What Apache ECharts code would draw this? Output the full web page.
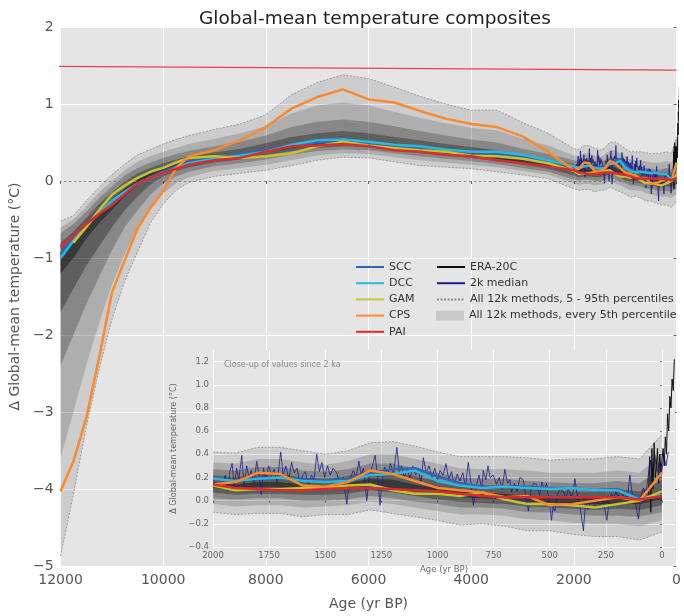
<!DOCTYPE html>
<html><head><meta charset="utf-8">
<script src="https://cdn.jsdelivr.net/npm/echarts@6/dist/echarts.min.js"></script>
<style>html,body{margin:0;padding:0;background:#fff}#c{width:684px;height:616px}</style>
</head><body><div id="c"></div>
<script>
// ---------- 12k section (ages in yr BP) ----------
const ages12k = [12000,11750,11500,11250,11000,10750,10500,10250,10000,9750,9500,9000,8500,8000,7500,7000,6500,6000,5500,5000,4500,4000,3500,3000,2500];
const p05_12k = [-4.87,-4.07,-3.2,-2.45,-1.8,-1.3,-0.92,-0.55,-0.3,-0.12,-0.02,0.06,0.1,0.14,0.2,0.27,0.31,0.3,0.25,0.2,0.18,0.16,0.12,0.08,0.03];
const p15_12k = [-3.6,-3.0,-2.4,-1.85,-1.35,-0.95,-0.62,-0.36,-0.16,-0.03,0.05,0.13,0.17,0.21,0.27,0.33,0.36,0.35,0.31,0.27,0.24,0.21,0.18,0.13,0.08];
const p25_12k = [-2.4,-2.0,-1.6,-1.25,-0.9,-0.6,-0.38,-0.18,-0.03,0.06,0.12,0.19,0.23,0.28,0.34,0.39,0.41,0.4,0.36,0.32,0.29,0.26,0.22,0.17,0.12];
const p35_12k = [-1.7,-1.4,-1.1,-0.85,-0.6,-0.38,-0.2,-0.05,0.06,0.13,0.18,0.24,0.28,0.33,0.39,0.43,0.45,0.44,0.4,0.36,0.33,0.3,0.26,0.21,0.16];
const p45_12k = [-1.2,-1.0,-0.75,-0.55,-0.38,-0.2,-0.06,0.05,0.12,0.18,0.22,0.27,0.31,0.37,0.43,0.47,0.49,0.47,0.43,0.4,0.36,0.33,0.29,0.24,0.19];
const p55_12k = [-0.95,-0.8,-0.58,-0.4,-0.25,-0.1,0.02,0.11,0.17,0.22,0.26,0.31,0.35,0.41,0.48,0.52,0.54,0.52,0.48,0.45,0.41,0.38,0.34,0.28,0.23];
const p65_12k = [-0.8,-0.66,-0.48,-0.3,-0.15,-0.01,0.1,0.17,0.23,0.28,0.32,0.37,0.42,0.49,0.57,0.62,0.65,0.62,0.57,0.53,0.48,0.44,0.4,0.34,0.28];
const p75_12k = [-0.68,-0.56,-0.4,-0.22,-0.07,0.07,0.17,0.24,0.3,0.35,0.39,0.45,0.51,0.59,0.7,0.77,0.8,0.77,0.71,0.65,0.59,0.54,0.5,0.42,0.35];
const p85_12k = [-0.6,-0.5,-0.33,-0.15,0.0,0.14,0.25,0.32,0.38,0.43,0.48,0.55,0.62,0.71,0.88,0.98,1.02,0.98,0.9,0.82,0.75,0.69,0.66,0.55,0.46];
const p95_12k = [-0.52,-0.45,-0.26,-0.08,0.08,0.22,0.34,0.41,0.48,0.54,0.59,0.67,0.74,0.86,1.12,1.28,1.38,1.33,1.22,1.1,1.0,0.92,0.92,0.76,0.62];
const scc12k = [-0.95,-0.75,-0.57,-0.42,-0.28,-0.15,-0.04,0.05,0.12,0.19,0.25,0.30,0.35,0.40,0.46,0.50,0.52,0.49,0.46,0.43,0.40,0.37,0.35,0.31,0.25];
const dcc12k = [-1.0,-0.78,-0.58,-0.42,-0.26,-0.14,-0.03,0.04,0.10,0.17,0.23,0.29,0.33,0.38,0.47,0.53,0.54,0.51,0.47,0.45,0.41,0.38,0.38,0.34,0.27];
const gam12k = [null,-0.8,-0.6,-0.38,-0.18,-0.06,0.04,0.12,0.17,0.24,0.30,0.32,0.30,0.32,0.36,0.45,0.51,0.46,0.43,0.40,0.38,0.33,0.32,0.29,0.23];
const cps12k = [-4.03,-3.64,-3.08,-2.3,-1.45,-1.03,-0.62,-0.35,-0.13,0.17,0.32,0.40,0.53,0.70,0.94,1.09,1.19,1.06,1.02,0.91,0.81,0.74,0.70,0.58,0.38];
const pai12k = [-0.85,-0.72,-0.56,-0.43,-0.31,-0.17,-0.03,0.04,0.10,0.16,0.21,0.27,0.30,0.38,0.45,0.46,0.48,0.45,0.40,0.38,0.34,0.32,0.27,0.23,0.19];

// ---------- 2k section ----------
const ages2k = [2000,1900,1800,1700,1600,1500,1400,1300,1200,1100,1000,900,800,700,600,500,400,300,200,100,0];
const p05_2k = [-0.10,-0.12,-0.11,-0.11,-0.14,-0.12,-0.12,-0.08,-0.11,-0.14,-0.17,-0.21,-0.20,-0.22,-0.26,-0.26,-0.29,-0.31,-0.31,-0.34,-0.27];
const p15_2k = [-0.03,-0.05,-0.04,-0.04,-0.06,-0.05,-0.04,-0.01,-0.03,-0.06,-0.09,-0.12,-0.12,-0.13,-0.16,-0.17,-0.19,-0.20,-0.20,-0.22,-0.17];
const p25_2k = [0.02,0.01,0.02,0.02,0.0,0.0,0.01,0.04,0.02,-0.01,-0.03,-0.06,-0.06,-0.07,-0.1,-0.1,-0.12,-0.13,-0.13,-0.14,-0.1];
const p35_2k = [0.07,0.05,0.06,0.06,0.05,0.05,0.06,0.09,0.07,0.04,0.01,-0.01,-0.02,-0.03,-0.05,-0.06,-0.07,-0.08,-0.07,-0.08,-0.04];
const p45_2k = [0.11,0.09,0.1,0.1,0.09,0.09,0.1,0.13,0.11,0.08,0.05,0.03,0.02,0.01,-0.01,-0.02,-0.03,-0.03,-0.03,-0.03,0.01];
const p55_2k = [0.16,0.14,0.16,0.16,0.14,0.13,0.15,0.19,0.18,0.14,0.11,0.08,0.07,0.06,0.04,0.03,0.02,0.02,0.03,0.02,0.08];
const p65_2k = [0.22,0.2,0.23,0.23,0.2,0.19,0.21,0.26,0.25,0.21,0.17,0.14,0.13,0.12,0.1,0.09,0.08,0.08,0.1,0.08,0.18];
const p75_2k = [0.27,0.26,0.29,0.29,0.26,0.25,0.27,0.32,0.32,0.28,0.24,0.2,0.19,0.19,0.17,0.16,0.15,0.15,0.17,0.15,0.28];
const p85_2k = [0.33,0.32,0.36,0.36,0.33,0.31,0.34,0.4,0.4,0.36,0.32,0.28,0.27,0.27,0.26,0.24,0.24,0.24,0.26,0.24,0.4];
const p95_2k = [0.42,0.41,0.46,0.46,0.43,0.40,0.43,0.50,0.51,0.47,0.42,0.38,0.38,0.38,0.37,0.35,0.36,0.36,0.38,0.36,0.57];
const scc2k = [0.18,0.17,0.19,0.20,0.18,0.17,0.19,0.24,0.27,0.28,0.21,0.15,0.12,0.12,0.12,0.11,0.11,0.09,0.10,0.02,0.05];
const dcc2k = [0.19,0.17,0.19,0.20,0.17,0.16,0.17,0.22,0.23,0.26,0.17,0.13,0.11,0.12,0.11,0.10,0.11,0.09,0.09,0.01,0.05];
const gam2k = [0.13,0.09,0.10,0.10,0.11,0.11,0.13,0.14,0.09,0.06,0.06,0.04,0.07,0.01,-0.03,-0.03,-0.04,-0.06,-0.03,0.0,0.08];
const cps2k = [0.14,0.16,0.24,0.23,0.13,0.12,0.16,0.26,0.23,0.17,0.11,0.09,0.07,0.03,0.04,-0.04,-0.03,0.0,0.03,0.0,0.24];
const pai2k = [0.14,0.11,0.10,0.09,0.09,0.10,0.11,0.11,0.10,0.09,0.08,0.06,0.04,0.03,0.03,0.03,0.03,0.03,0.03,0.01,0.04];

// 2k median (navy)
const medAges = [1955,1945,1935,1925,1915,1905,1895,1885,1872,1862,1850,1840,1830,1818,1805,1795,1785,1775,1765,1752,1740,1728,1715,1698,1688,1675,1662,1650,1638,1625,1612,1600,1588,1575,1562,1550,1538,1526,1515,1503,1490,1478,1465,1449,1435,1420,1404,1392,1375,1362,1350,1340,1330,1315,1305,1290,1278,1266,1256,1245,1235,1222,1210,1196,1181,1170,1160,1148,1135,1122,1110,1097,1085,1073,1063,1050,1038,1025,1012,1000,989,975,962,950,938,925,912,900,887,875,863,851,840,828,815,803,796,785,775,766,752,737,725,712,700,688,678,670,658,645,633,618,607,595,585,572,558,545,535,524,514,503,492,485,477,466,455,440,428,418,405,395,388,378,365,350,340,330,321,310,298,288,276,262,246,235,225,215,205,195,185,175,165,155,143,132,120,105,95,83,72,62,52,42,32,22,12,2,-8,-18,-28];
const medVals = [0.15,0.22,0.08,0.25,0.32,0.12,0.28,0.18,0.39,0.13,0.30,0.20,0.26,0.15,0.34,0.22,0.05,0.28,0.18,0.30,0.22,0.27,0.15,0.42,0.22,0.30,0.18,0.33,0.24,0.28,0.14,0.22,0.25,0.12,0.22,0.18,0.40,0.25,0.33,0.20,0.30,0.22,0.28,0.24,0.15,0.20,-0.03,0.18,0.26,0.20,0.34,0.22,0.28,0.0,0.2,0.30,0.39,0.2,-0.04,0.2,0.29,0.22,0.32,0.24,0.46,0.25,0.30,0.20,0.28,0.18,0.30,0.22,0.26,0.15,0.37,0.24,0.30,0.20,0.28,0.18,0.26,0.22,0.32,0.18,0.25,0.14,0.23,0.17,0.24,0.12,0.33,0.15,-0.04,0.12,0.22,0.10,0.26,0.18,0.30,0.20,0.22,0.14,0.20,0.10,0.27,0.15,0.18,0.07,0.15,0.08,0.20,0.18,0.05,-0.09,0.08,0.15,0.14,0.05,0.16,0.10,0.15,0.0,-0.17,-0.05,-0.09,0.05,0.10,0.08,0.02,0.10,0.04,0.08,0.19,0.05,-0.05,-0.26,0.0,-0.08,-0.03,0.02,-0.07,0.0,-0.05,0.02,-0.17,0.0,0.06,0.02,0.08,0.03,0.10,0.04,0.08,0.0,0.22,0.05,0.0,-0.16,0.02,0.11,0.05,0.2,0.35,0.15,0.4,0.25,0.33,0.22,0.4,0.3,0.42];

// ERA-20C (black)
const eraAges = [60,55,50,45,40,35,30,25,20,15,10,5,0,-5,-10,-15,-20,-25,-30,-35,-40,-45,-50,-55];
const eraVals = [0.05,0.38,-0.1,0.45,0.1,0.5,0.2,0.3,0.45,0.15,0.4,0.25,0.35,0.45,0.3,0.55,0.4,0.75,0.6,0.9,0.8,1.05,0.95,1.22];

// red reference line
const refAges = [12370, 0];
const refVals = [1.49, 1.44];

const xTicksInset = [0,250,500,750,1000,1250,1500,1750,2000];
const yTicksInset = [-0.4,-0.2,0,0.2,0.4,0.6,0.8,1.0,1.2];

const BAND = 'All 12k methods, every 5th percentile';
const P595 = 'All 12k methods, 5 - 95th percentiles';
const COLORS = {SCC:'#2f66ad', DCC:'#2ab8e0', GAM:'#c4c42c', CPS:'#fb8a2c', PAI:'#dc2b2e'};
const FONT = 'DejaVu Sans';

function pts(xs, ys){ return xs.map((x,i)=>[x, ys[i]]); }
const agesAll = ages12k.concat(ages2k);
const cat = (a,b)=>a.concat(b);

const mainLo = [cat(p05_12k,p05_2k), cat(p15_12k,p15_2k), cat(p25_12k,p25_2k), cat(p35_12k,p35_2k), cat(p45_12k,p45_2k)];
const mainHi = [cat(p95_12k,p95_2k), cat(p85_12k,p85_2k), cat(p75_12k,p75_2k), cat(p65_12k,p65_2k), cat(p55_12k,p55_2k)];
const insLo = [p05_2k,p15_2k,p25_2k,p35_2k,p45_2k];
const insHi = [p95_2k,p85_2k,p75_2k,p65_2k,p55_2k];
const alphas = [0.1,0.15,0.22,0.3,0.4];

const series = [];
function addBands(xs, los, his, ax, z){
  los.forEach((lo,k)=>{
    const hi = his[k];
    const fill = 'rgba(0,0,0,'+alphas[k]+')';
    series.push({type:'custom', name:BAND, xAxisIndex:ax, yAxisIndex:ax, silent:true, z:z, clip:true,
      data: xs.map((x,i)=>[x, lo[i], hi[i]]), encode:{x:0, y:[1,2]},
      itemStyle:{color:fill},
      renderItem:(params, api)=>{
        if (params.dataIndex !== 0) return null;
        const poly = [];
        for (let i=0;i<xs.length;i++) poly.push(api.coord([xs[i], hi[i]]));
        for (let i=xs.length-1;i>=0;i--) poly.push(api.coord([xs[i], lo[i]]));
        return {type:'polygon', shape:{points:poly}, style:{fill:fill, stroke:null}};
      }});
  });
}
function addLines(ax, xs, lo, hi, z){
  const zeroML = {silent:true, symbol:'none', label:{show:false}, lineStyle:{type:[3,2], color:'#707070', width:0.8}, data:[{yAxis:0}]};
  series.push({type:'line', name:P595, xAxisIndex:ax, yAxisIndex:ax, data:pts(xs, lo), symbol:'none',
    lineStyle:{color:'#8a8a8a', width:0.8, type:[2,1.5]}, itemStyle:{color:'#8a8a8a'}, silent:true, z:z+1, markLine:zeroML});
  series.push({type:'line', name:P595, xAxisIndex:ax, yAxisIndex:ax, data:pts(xs, hi), symbol:'none',
    lineStyle:{color:'#8a8a8a', width:0.8, type:[2,1.5]}, itemStyle:{color:'#8a8a8a'}, silent:true, z:z+1});
  series.push({type:'line', name:'2k median', xAxisIndex:ax, yAxisIndex:ax, data:pts(medAges, medVals), symbol:'none',
    lineStyle:{color:'#1c1c86', width:0.8}, itemStyle:{color:'#1c1c86'}, silent:true, z:z+2});
  series.push({type:'line', name:'ERA-20C', xAxisIndex:ax, yAxisIndex:ax, data:pts(eraAges, eraVals), symbol:'none',
    lineStyle:{color:'#111', width:1}, itemStyle:{color:'#111'}, silent:true, z:z+2});
}
function addMethods(ax, xs, sets, z){
  ['SCC','DCC','GAM','CPS','PAI'].forEach((n,i)=>{
    series.push({type:'line', name:n, xAxisIndex:ax, yAxisIndex:ax, data:pts(xs, sets[i]), symbol:'none',
      lineStyle:{color:COLORS[n], width:2.5}, itemStyle:{color:COLORS[n]}, silent:true, z:z+3});
  });
}

// main
addBands(agesAll, mainLo, mainHi, 0, 2);
addLines(0, agesAll, mainLo[0], mainHi[0], 2);
addMethods(0, agesAll, [cat(scc12k,scc2k), cat(dcc12k,dcc2k), cat(gam12k,gam2k), cat(cps12k,cps2k), cat(pai12k,pai2k)], 2);
series.push({type:'line', name:'_ref', xAxisIndex:0, yAxisIndex:0, data:pts(refAges, refVals), symbol:'none', clip:false,
  lineStyle:{color:'#e0474c', width:1.1}, silent:true, z:6});
// inset
addBands(ages2k, insLo, insHi, 1, 8);
addLines(1, ages2k, p05_2k, p95_2k, 8);
addMethods(1, ages2k, [scc2k, dcc2k, gam2k, cps2k, pai2k], 8);

const minus = v => String(v).replace('-', '\u2212');
const legText = {fontSize:11, color:'#333', lineHeight:14};
const chart = echarts.init(document.getElementById('c'));
chart.setOption({
  animation:false,
  backgroundColor:'#ffffff',
  textStyle:{fontFamily:FONT},
  title:[
    {text:'Global-mean temperature composites', left:194, top:5, textStyle:{fontFamily:FONT, fontSize:18.5, fontWeight:'normal', color:'#222'}},
    {text:'Close-up of values since 2 ka', left:219, top:356, z:20, textStyle:{fontFamily:FONT, fontSize:8, fontWeight:'normal', color:'#8a8a8a'}}
  ],
  grid:[
    {left:57, right:0, top:27, bottom:43, show:true, backgroundColor:'#e5e5e5', borderWidth:0, z:0},
    {left:213, right:9, top:350, bottom:69, show:true, backgroundColor:'#e5e5e5', borderWidth:0, z:5}
  ],
  xAxis:[
    {type:'value', gridIndex:0, inverse:true, min:0, max:12000, interval:2000,
      name:'Age (yr BP)', nameLocation:'middle', nameGap:31, nameTextStyle:{fontSize:14, color:'#555'},
      axisLine:{show:false}, axisTick:{show:true, length:3, lineStyle:{color:'#666'}},
      axisLabel:{fontSize:14, color:'#555', margin:7, formatter:v=>String(v)},
      splitLine:{show:true, lineStyle:{color:'#ffffff', width:1}}},
    {type:'value', gridIndex:1, inverse:true, min:-58, max:2000, z:6,
      name:'Age (yr BP)', nameLocation:'middle', nameGap:18, nameTextStyle:{fontSize:8.5, color:'#666'},
      axisLine:{show:false}, axisTick:{show:true, length:2, lineStyle:{color:'#777'}, customValues:xTicksInset},
      axisLabel:{fontSize:8.5, color:'#666', margin:4, customValues:xTicksInset, formatter:v=>String(v)},
      splitLine:{show:true, lineStyle:{color:'#ffffff', width:1}}}
  ],
  yAxis:[
    {type:'value', gridIndex:0, min:-5, max:2, interval:1,
      name:'\u0394 Global-mean temperature (\u00b0C)', nameLocation:'middle', nameGap:38, nameTextStyle:{fontSize:14, color:'#555'},
      axisLine:{show:false}, axisTick:{show:true, length:3, lineStyle:{color:'#666'}},
      axisLabel:{fontSize:14, color:'#555', margin:7, formatter:v=>minus(v)},
      splitLine:{show:true, lineStyle:{color:'#ffffff', width:1}}},
    {type:'value', gridIndex:1, min:-0.4, max:1.3, z:6,
      name:'\u0394 Global-mean temperature (\u00b0C)', nameLocation:'middle', nameGap:27, nameTextStyle:{fontSize:8, color:'#666'},
      axisLine:{show:false}, axisTick:{show:true, length:2, lineStyle:{color:'#777'}, customValues:yTicksInset},
      axisLabel:{fontSize:8.5, color:'#666', margin:4, customValues:yTicksInset, formatter:v=>minus(v.toFixed(1))},
      splitLine:{show:true, lineStyle:{color:'#ffffff', width:1}}}
  ],
  legend:[
    {data:['SCC','DCC','GAM','CPS','PAI'], orient:'vertical', left:350, top:255, itemWidth:28, itemHeight:10, itemGap:2.2,
      itemStyle:{opacity:0}, textStyle:legText, selectedMode:false},
    {data:['ERA-20C','2k median',P595], orient:'vertical', left:431, top:255, itemWidth:28, itemHeight:10, itemGap:2.2,
      itemStyle:{opacity:0}, textStyle:legText, selectedMode:false},
    {data:[{name:BAND, icon:'rect', itemStyle:{color:'#c9c9c9'}}], orient:'vertical', left:431, top:303.6, itemWidth:28, itemHeight:10,
      textStyle:legText, selectedMode:false}
  ],
  series:series
});
</script>
</body></html>
